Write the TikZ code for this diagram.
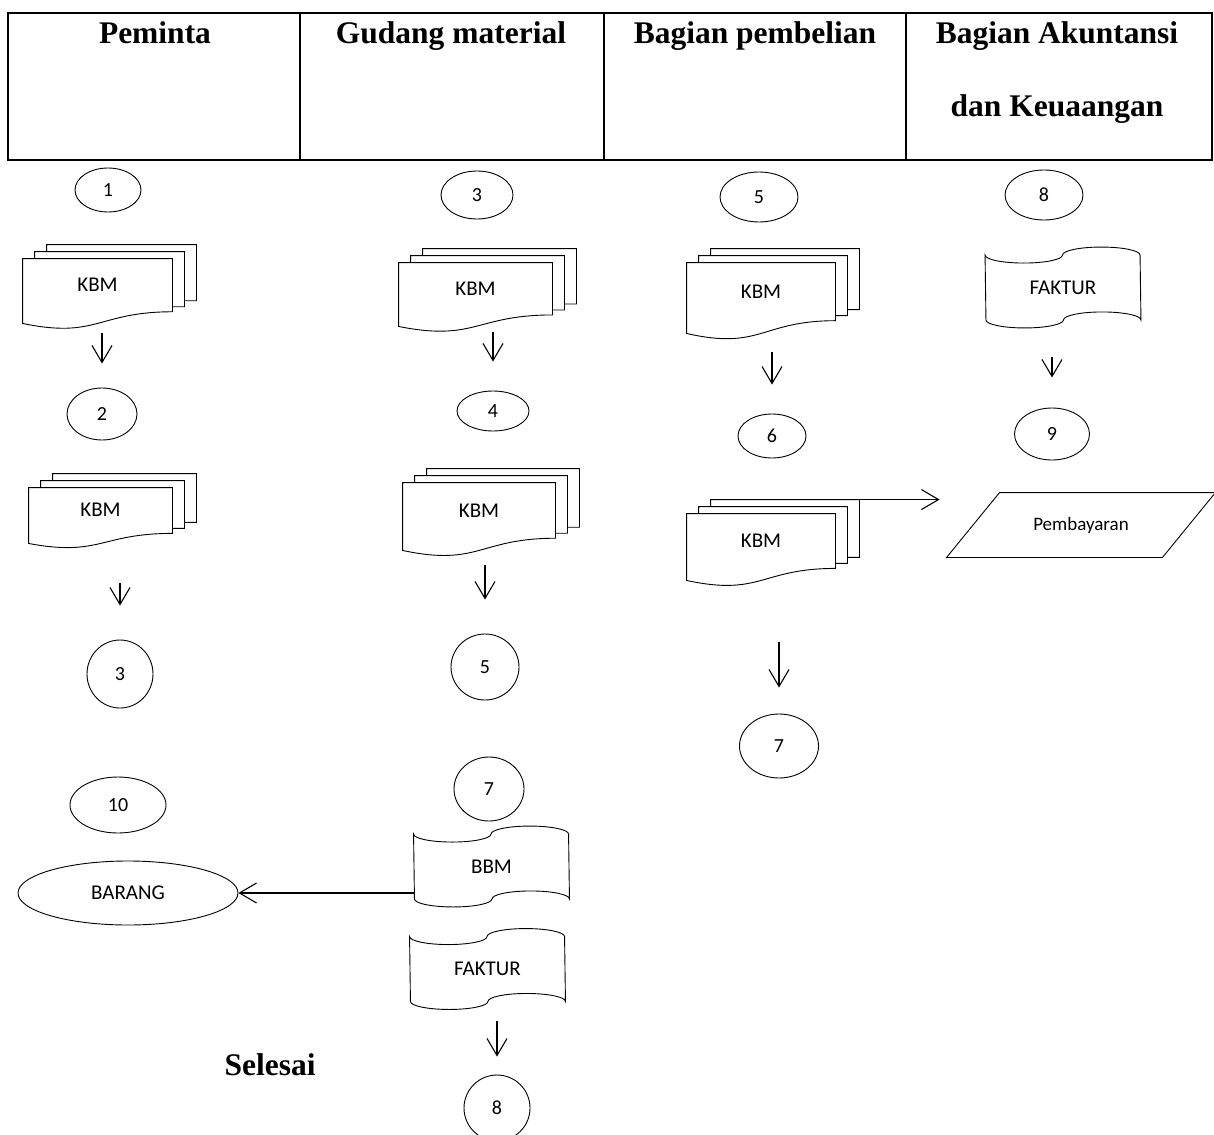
\documentclass[tikz,border=0pt]{standalone}
\usepackage{fontspec}
\setmainfont{Liberation Serif}
\newfontfamily\calibri{Carlito}
\usetikzlibrary{shapes.geometric,arrows.meta,calc}

% multi-document: name, position, text, width, depth
\newcommand{\multidoc}[5]{%
  \node[kbm, minimum width=#4pt, minimum height=#5pt] (#1) at (#2) {#3};
  \coordinate (#1-rb) at ($(#1.north east)!0.82!(#1.south east)$);
  \draw (#1.north west) -- (#1.north east) -- (#1-rb)
    .. controls ($(#1.north)!0.82!(#1.south)$) and ($(#1.north)!1.24!(#1.south)$) .. (#1.south west) -- cycle;
  \draw ([shift={(12,0)}]#1.north west) -- ++(0,-7) -- ([shift={(12,-7)}]#1.north east)
    -- ([shift={(12,-5)}]#1-rb) -- ([shift={(0,-5)}]#1-rb);
  \draw ([shift={(24,-7)}]#1.north west) -- ++(0,-7) -- ([shift={(24,-14)}]#1.north east)
    -- ([shift={(24,-11)}]#1-rb) -- ([shift={(12,-11)}]#1-rb);
  \coordinate (#1-back) at ([shift={(24,-14)}]#1.north east);
}
% punched tape: name, position, text
\newcommand{\tapedoc}[3]{%
  \node[tape] (#1) at (#2) {#3};
  \draw ([yshift=-8pt]#1.north west)
    arc[start angle=180, end angle=0, x radius=38.75, y radius=8]
    arc[start angle=180, end angle=360, x radius=38.75, y radius=8]
    -- ([yshift=8pt]#1.south east)
    arc[start angle=0, end angle=-180, x radius=38.75, y radius=8]
    arc[start angle=0, end angle=180, x radius=38.75, y radius=8] -- cycle;
}

\begin{document}
\begin{tikzpicture}[x=1pt, y=-1pt, line width=0.9pt,
    >={Straight Barb[length=17pt,width=20pt]},
    flow/.style={->, line width=1.1pt},
    head/.style={font=\bfseries\fontsize{31.5}{36}\selectfont, anchor=base, inner sep=0pt},
    kbm/.style={inner sep=0pt, text height=13pt, text depth=12pt, font=\calibri\fontsize{21}{24}\selectfont},
    tape/.style={minimum width=155pt, minimum height=80pt, inner sep=0pt, font=\calibri\fontsize{21}{24}\selectfont},
    conn/.style={draw, ellipse, inner sep=0pt, font=\calibri\fontsize{20}{22}\selectfont}]
	\useasboundingbox (0,0) rectangle (1214,1134);
	% header
	\draw[line width=2.6pt] (8,13) rectangle (1212,160);
	\foreach \x in {300,604,906}
		\draw[line width=2.4pt] (\x,13) -- (\x,160);
	\node[head] (hPem) at (155,44) {Peminta};
	\node[head] (hGud) at (451,44) {Gudang material};
	\node[head] (hBel) at (755,44) {Bagian pembelian};
	\node[head] (hAku) at (1057,44) {Bagian Akuntansi};
	\node[head] (hKeu) at (1057,117) {dan Keuaangan};

	% Peminta
	\node[conn, minimum width=66pt, minimum height=44pt] (p1) at (108,190) {1};
	\multidoc{kbmP1}{97.5,291}{KBM}{149}{64}
	\node[conn, minimum width=70pt, minimum height=52pt] (p2) at (102,414) {2};
	\multidoc{kbmP2}{100.5,515.5}{KBM}{143}{55}
	\node[conn, minimum width=66pt, minimum height=68pt] (p3) at (120,674) {3};
	\node[conn, minimum width=96pt, minimum height=56pt] (p10) at (118,805) {10};
	\node[conn, minimum width=220pt, minimum height=64pt, font=\calibri\fontsize{21}{24}\selectfont] (barang) at (128,893) {BARANG};
	\node[head] (selesai) at (270,1075) {Selesai};
	\draw[flow, shorten <=10pt, shorten >=24pt] (p2.north |- kbmP1.south) -- (p2.north);
	\draw[flow, shorten <=40pt, shorten >=34pt] (p3.north |- kbmP2.south) -- (p3.north);

	% Gudang material
	\node[conn, minimum width=72pt, minimum height=48pt] (g3) at (477,195) {3};
	\multidoc{kbmG1}{475.5,294.5}{KBM}{153}{63}
	\node[conn, minimum width=72pt, minimum height=40pt] (g4) at (493,411) {4};
	\multidoc{kbmG2}{479,516.5}{KBM}{152}{67}
	\node[conn, minimum width=68pt, minimum height=66pt] (g5) at (485,667) {5};
	\node[conn, minimum width=70pt, minimum height=64pt] (g7) at (489,789) {7};
	\tapedoc{bbm}{491.5,866.5}{BBM}
	\tapedoc{fakturG}{487.5,969}{FAKTUR}
	\node[conn, minimum width=66pt, minimum height=66pt] (g8) at (497,1108) {8};
	\draw[flow, shorten <=6pt, shorten >=29pt] (g4.north |- kbmG1.south) -- (g4.north);
	\draw[flow, shorten <=15pt, shorten >=34pt] (g5.north |- kbmG2.south) -- (g5.north);
	\draw[flow, shorten <=12pt, shorten >=18pt] (g8.north |- fakturG.south) -- (g8.north);
	\draw[flow] (bbm.west |- barang.east) -- (barang.east);

	% Bagian pembelian
	\node[conn, minimum width=78pt, minimum height=50pt] (b5) at (759,197) {5};
	\multidoc{kbmB1}{761,298}{KBM}{148}{70}
	\node[conn, minimum width=68pt, minimum height=44pt] (b6) at (772,436) {6};
	\multidoc{kbmB2}{761,547}{KBM}{148}{66}
	\node[conn, minimum width=79pt, minimum height=64pt] (b7) at (779,746) {7};
	\draw[flow, shorten <=19pt, shorten >=29pt] (b6.north |- kbmB1.south) -- (b6.north);
	\draw[flow, shorten <=62pt, shorten >=26pt] (b7.north |- kbmB2.south) -- (b7.north);

	% Bagian Akuntansi dan Keuangan
	\node[conn, minimum width=78pt, minimum height=50pt] (a8) at (1044,195) {8};
	\tapedoc{fakturA}{1063,287.5}{FAKTUR}
	\node[conn, minimum width=75pt, minimum height=52pt] (a9) at (1052,434) {9};
	\node[minimum width=215pt, minimum height=64pt, inner sep=0pt, font=\calibri\fontsize{19}{22}\selectfont] (pemb) at (1081,525) {Pembayaran};
	\draw ([xshift=26.5pt]pemb.north west) -- ([xshift=26.5pt]pemb.north east)
		-- ([xshift=-26.5pt]pemb.south east) -- ([xshift=-26.5pt]pemb.south west) -- cycle;
	\draw[flow, shorten <=29pt, shorten >=30pt] (a9.north |- fakturA.south) -- (a9.north);
	\draw[flow, shorten >=33.5pt] (kbmB2-back) -- (kbmB2-back -| pemb.west);
\end{tikzpicture}
\end{document}
